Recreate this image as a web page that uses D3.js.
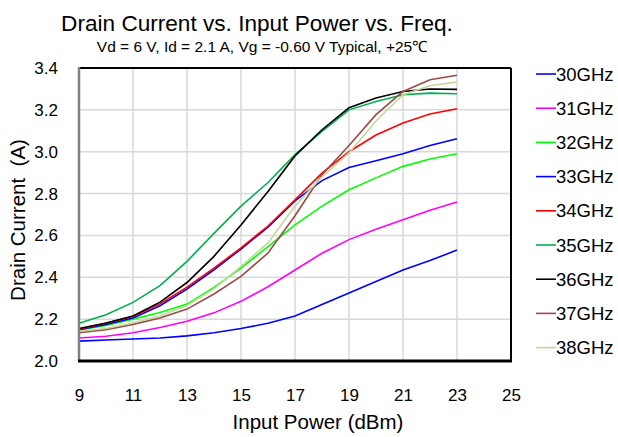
<!DOCTYPE html>
<html><head><meta charset="utf-8">
<script src="https://cdn.jsdelivr.net/npm/d3@7"></script>
<style>body{margin:0;background:#fff}svg{display:block;font-family:"Liberation Sans",Arial,sans-serif}</style>
</head><body><div id="c"></div>
<script>
const inputPower = [9,10,11,12,13,14,15,16,17,18,19,20,21,22,23];
const freqLabels = ["30GHz","31GHz","32GHz","33GHz","34GHz","35GHz","36GHz","37GHz","38GHz"];
const s30 = [2.095,2.100,2.105,2.110,2.120,2.135,2.155,2.180,2.215,2.270,2.325,2.380,2.435,2.480,2.530];
const s31 = [2.110,2.118,2.135,2.160,2.190,2.230,2.285,2.355,2.435,2.515,2.580,2.630,2.675,2.720,2.760];
const s32 = [2.148,2.170,2.200,2.232,2.272,2.352,2.444,2.547,2.650,2.740,2.818,2.875,2.930,2.965,2.990];
const s33 = [2.150,2.175,2.205,2.264,2.344,2.436,2.535,2.640,2.765,2.862,2.925,2.957,2.990,3.030,3.062];
const s34 = [2.152,2.180,2.213,2.273,2.353,2.444,2.540,2.645,2.770,2.898,3.000,3.080,3.137,3.180,3.205];
const s35 = [2.180,2.221,2.280,2.360,2.476,2.610,2.740,2.853,2.986,3.097,3.200,3.240,3.272,3.280,3.277];
const s36 = [2.155,2.182,2.215,2.281,2.375,2.500,2.650,2.810,2.980,3.105,3.210,3.257,3.288,3.300,3.298];
const s37 = [2.135,2.150,2.175,2.205,2.248,2.320,2.404,2.516,2.694,2.890,3.030,3.177,3.288,3.344,3.365];
const s38 = [2.142,2.155,2.182,2.215,2.265,2.345,2.452,2.564,2.740,2.880,2.994,3.147,3.272,3.315,3.333];
const xTicks = [9,11,13,15,17,19,21,23,25];
const yTicks = [2.0,2.2,2.4,2.6,2.8,3.0,3.2,3.4];
const colors = ["#0000ff","#ff00ff","#00ff00","#0000ff","#ff0000","#00b050","#000000","#984b47","#c4d79b"];
const seriesValues = [s30,s31,s32,s33,s34,s35,s36,s37,s38];

const W=618,H=437;
const m={l:79,t:68,r:511,b:361};
const svg=d3.select("#c").append("svg").attr("width",W).attr("height",H);
const x=d3.scaleLinear().domain([9,25]).range([m.l,m.r]);
const y=d3.scaleLinear().domain([2.0,3.4]).range([m.b,m.t]);

// grid
const g=svg.append("g");
g.selectAll("line.v").data(xTicks).enter().append("line")
 .attr("x1",d=>x(d)).attr("x2",d=>x(d)).attr("y1",m.t).attr("y2",m.b)
 .attr("stroke","#d9d9d9").attr("stroke-width",1.5);
g.selectAll("line.h").data(yTicks).enter().append("line")
 .attr("x1",m.l).attr("x2",m.r).attr("y1",d=>y(d)).attr("y2",d=>y(d))
 .attr("stroke","#d9d9d9").attr("stroke-width",1.5);

// series
const line=d3.line().x((d,i)=>x(inputPower[i])).y(d=>y(d));
seriesValues.forEach((vals,k)=>{
  svg.append("path").attr("d",line(vals)).attr("fill","none")
   .attr("stroke",colors[k]).attr("stroke-width",1.6);
});

// frame
svg.append("line").attr("x1",m.l).attr("x2",m.r).attr("y1",m.t).attr("y2",m.t).attr("stroke","#000").attr("stroke-width",2);
svg.append("line").attr("x1",m.r).attr("x2",m.r).attr("y1",m.t).attr("y2",m.b).attr("stroke","#000").attr("stroke-width",2);
svg.append("line").attr("x1",m.l).attr("x2",m.l).attr("y1",m.t-1).attr("y2",m.b).attr("stroke","#808080").attr("stroke-width",2.5);
svg.append("line").attr("x1",m.l-1).attr("x2",m.r+1).attr("y1",m.b).attr("y2",m.b).attr("stroke","#000").attr("stroke-width",3);

// axes labels
const yAxis=d3.axisLeft(y).tickValues(yTicks).tickFormat(d3.format(".1f")).tickSize(0).tickPadding(21);
const ya=svg.append("g").attr("transform",`translate(${m.l},0)`).call(yAxis);
ya.select(".domain").remove();
ya.selectAll("text").attr("font-size",17).attr("fill","#000").attr("font-family","Liberation Sans, Arial, sans-serif");
const xAxis=d3.axisBottom(x).tickValues(xTicks).tickFormat(d3.format("d")).tickSize(0).tickPadding(28);
const xa=svg.append("g").attr("transform",`translate(0,${m.b})`).call(xAxis);
xa.select(".domain").remove();
xa.selectAll("text").attr("font-size",17).attr("fill","#000").attr("font-family","Liberation Sans, Arial, sans-serif");

svg.append("text").attr("x",318).attr("y",429).attr("text-anchor","middle").attr("font-size",20.5).text("Input Power (dBm)");
svg.append("text").attr("transform","translate(25,220) rotate(-90)").attr("text-anchor","middle").attr("font-size",20.5).attr("xml:space","preserve").text("Drain Current  (A)");

svg.append("text").attr("x",257).attr("y",31).attr("text-anchor","middle").attr("font-size",22.6).text("Drain Current vs. Input Power vs. Freq.");
svg.append("text").attr("x",262).attr("y",52).attr("text-anchor","middle").attr("font-size",15.5).text("Vd = 6 V, Id = 2.1 A, Vg = -0.60 V Typical, +25\u2103");

// legend
const lg=svg.append("g");
freqLabels.forEach((f,i)=>{
  const yy=74+i*34.2;
  lg.append("line").attr("x1",536).attr("x2",556).attr("y1",yy).attr("y2",yy).attr("stroke",colors[i]).attr("stroke-width",1.6);
  lg.append("text").attr("x",556).attr("y",yy+6.5).attr("font-size",18.5).text(f);
});
</script></body></html>
